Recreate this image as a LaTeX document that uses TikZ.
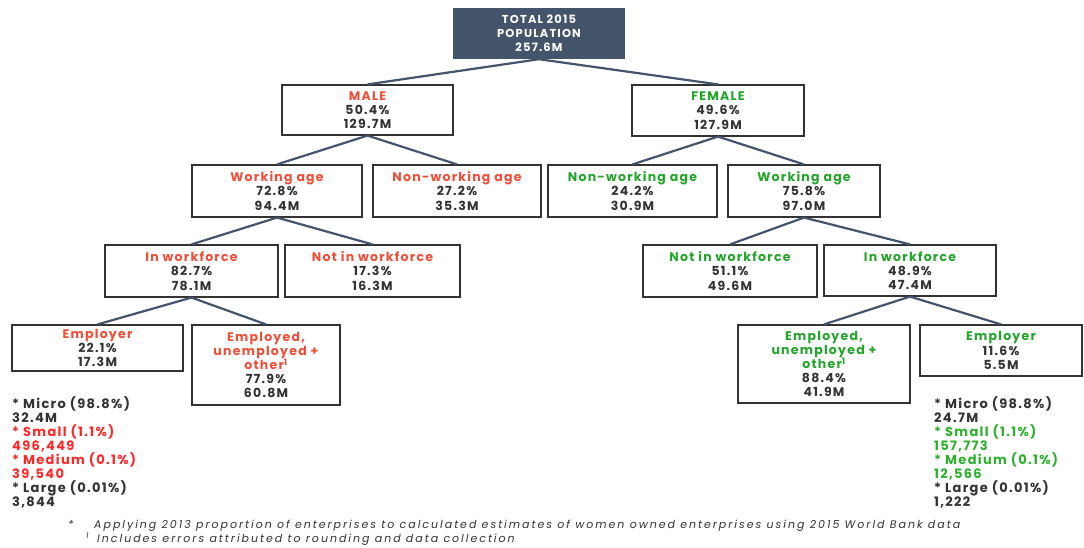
\documentclass[tikz,border=0pt]{standalone}
\usepackage{fontspec}
\setmainfont{Poppins}
\newfontfamily\boxfont{Poppins}[LetterSpace=10]
\newfontfamily\notefont{Poppins}[LetterSpace=18]
\usepackage{xcolor}
\definecolor{slate}{HTML}{44546A}
\definecolor{malered}{HTML}{F04E37}
\definecolor{femgreen}{HTML}{22A52A}
\definecolor{listred}{HTML}{FF2828}
\definecolor{listgreen}{HTML}{2DB02D}
\definecolor{txt}{HTML}{333333}
\tikzstyle{box} = [rectangle, draw=txt, line width=1.2pt, fill=white, align=center, text=txt, inner sep=0pt, font=\boxfont\bfseries\fontsize{12.5}{14.2}\selectfont]
\tikzstyle{link} = [draw=slate, line width=2.2pt]
\newcommand{\mred}[1]{\textcolor{malered}{#1}}
\newcommand{\fgreen}[1]{\textcolor{femgreen}{#1}}

\begin{document}
\begin{tikzpicture}[
            x=1pt, y=-1pt,
            topbox/.style={rectangle, fill=slate, text=white, align=center, inner sep=0pt, font=\boxfont\bfseries\fontsize{11.5}{14.2}\selectfont},
            list/.style={align=left, anchor=north west, inner sep=0pt, font=\boxfont\bfseries\fontsize{13}{14}\selectfont},
            note/.style={anchor=base west, inner sep=0pt, text=txt, font=\notefont\itshape\fontsize{11}{10}\selectfont}
        ]
            \useasboundingbox (0,0) rectangle (1084,548);

            % Nodes
            \node (total) [topbox, minimum width=172, minimum height=51] at (539,33.5) {TOTAL 2015\\POPULATION\\257.6M};
            \node (male) [box, minimum width=171, minimum height=50] at (367.5,110) {\mred{MALE}\\50.4\%\\129.7M};
            \node (female) [box, minimum width=172, minimum height=51] at (718,110.5) {\fgreen{FEMALE}\\49.6\%\\127.9M};

            \node (workm) [box, minimum width=170, minimum height=52] at (277,191) {\mred{Working age}\\72.8\%\\94.4M};
            \node (nonworkm) [box, minimum width=168, minimum height=52] at (457,191) {\mred{Non-working age}\\27.2\%\\35.3M};
            \node (nonworkf) [box, minimum width=169, minimum height=52] at (632.5,191) {\fgreen{Non-working age}\\24.2\%\\30.9M};
            \node (workf) [box, minimum width=152, minimum height=52] at (804,191) {\fgreen{Working age}\\75.8\%\\97.0M};

            \node (inwfm) [box, minimum width=173, minimum height=52] at (191.5,271) {\mred{In workforce}\\82.7\%\\78.1M};
            \node (notwfm) [box, minimum width=175, minimum height=52] at (372.5,271) {\mred{Not in workforce}\\17.3\%\\16.3M};
            \node (notwff) [box, minimum width=174, minimum height=52] at (730,271) {\fgreen{Not in workforce}\\51.1\%\\49.6M};
            \node (inwff) [box, minimum width=172, minimum height=51] at (910,270.5) {\fgreen{In workforce}\\48.9\%\\47.4M};

            \node (emplrm) [box, minimum width=171, minimum height=46] at (97.5,348) {\mred{Employer}\\22.1\%\\17.3M};
            \node (emplym) [box, minimum width=148, minimum height=80] at (266,365) {\mred{Employed,}\\\mred{unemployed +}\\\mred{other\textsuperscript{1}}\\77.9\%\\60.8M};
            \node (emplyf) [box, minimum width=172, minimum height=78] at (824,364) {\fgreen{Employed,}\\\fgreen{unemployed +}\\\fgreen{other\textsuperscript{1}}\\88.4\%\\41.9M};
            \node (emplrf) [box, minimum width=162, minimum height=51] at (1001,350.5) {\fgreen{Employer}\\11.6\%\\5.5M};

            \node (listm) [list] at (12,396) {\textcolor{txt}{* Micro (98.8\%)}\\\textcolor{txt}{32.4M}\\\textcolor{listred}{* Small (1.1\%)}\\\textcolor{listred}{496,449}\\\textcolor{listred}{* Medium (0.1\%)}\\\textcolor{listred}{39,540}\\\textcolor{txt}{* Large (0.01\%)}\\\textcolor{txt}{3,844}};
            \node (listf) [list] at (934,396) {\textcolor{txt}{* Micro (98.8\%)}\\\textcolor{txt}{24.7M}\\\textcolor{listgreen}{* Small (1.1\%)}\\\textcolor{listgreen}{157,773}\\\textcolor{listgreen}{* Medium (0.1\%)}\\\textcolor{listgreen}{12,566}\\\textcolor{txt}{* Large (0.01\%)}\\\textcolor{txt}{1,222}};

            \node (star) [note] at (68,528) {*};
            \node (note1) [note] at (94,528) {Applying 2013 proportion of enterprises to calculated estimates of women owned enterprises using 2015 World Bank data};
            \node (one) [note] at (86,542) {\textsuperscript{1}};
            \node (note2) [note] at (97,542) {Includes errors attributed to rounding and data collection};

            % Lines
            \draw [link] (total.south) -- (male.north);
            \draw [link] (total.south) -- (female.north);
            \draw [link] (male.south) -- (workm.north);
            \draw [link] (male.south) -- (nonworkm.north);
            \draw [link] (female.south) -- (nonworkf.north);
            \draw [link] (female.south) -- (workf.north);
            \draw [link] (workm.south) -- (inwfm.north);
            \draw [link] (workm.south) -- (notwfm.north);
            \draw [link] (workf.south) -- (notwff.north);
            \draw [link] (workf.south) -- (inwff.north);
            \draw [link] (inwfm.south) -- (emplrm.north);
            \draw [link] (inwfm.south) -- (emplym.north);
            \draw [link] (inwff.south) -- (emplyf.north);
            \draw [link] (inwff.south) -- (emplrf.north);
        \end{tikzpicture}
\end{document}
